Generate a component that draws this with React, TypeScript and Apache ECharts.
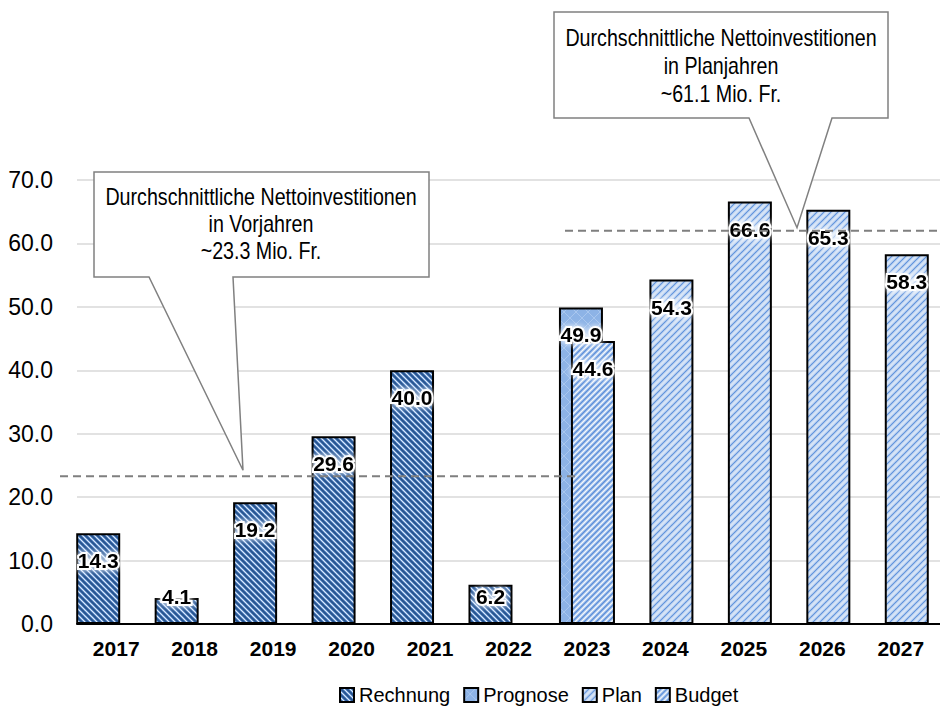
import React, { useEffect, useRef } from 'react';
import * as echarts from 'echarts';

const years = ['2017', '2018', '2019', '2020', '2021', '2022', '2023', '2024', '2025', '2026', '2027'];
const rechnung = [14.3, 4.1, 19.2, 29.6, 40.0, 6.2, null, null, null, null, null];
const prognose = [null, null, null, null, null, null, 49.9, null, null, null, null];
const budget = [null, null, null, null, null, null, 44.6, null, null, null, null];
const plan = [null, null, null, null, null, null, null, 54.3, 66.6, 65.3, 58.3];

const yMin = 0;
const yMax = 70;
const yStep = 10;

const avgPastValue = 23.3;
const avgPastLine = 23.3;
const avgPlanValue = 61.1;
const avgPlanLine = 62.0;

const calloutPast = ['Durchschnittliche Nettoinvestitionen', 'in Vorjahren', `~${avgPastValue.toFixed(1)} Mio. Fr.`];
const calloutPlan = ['Durchschnittliche Nettoinvestitionen', 'in Planjahren', `~${avgPlanValue.toFixed(1)} Mio. Fr.`];

const FONT = "'Liberation Sans', Arial, sans-serif";

type Stroke = { color: string; width: number; offset: number; dir: 'fwd' | 'back' };

function makePattern(size: number, bg: string, strokes: Stroke[]) {
  const c = document.createElement('canvas');
  c.width = size;
  c.height = size;
  const ctx = c.getContext('2d')!;
  ctx.fillStyle = bg;
  ctx.fillRect(0, 0, size, size);
  for (const s of strokes) {
    ctx.strokeStyle = s.color;
    ctx.lineWidth = s.width;
    for (let k = -2; k <= 3; k++) {
      const o = k * size + s.offset;
      ctx.beginPath();
      if (s.dir === 'back') {
        ctx.moveTo(o - 2 * size, -2 * size);
        ctx.lineTo(o + 3 * size, 3 * size);
      } else {
        ctx.moveTo(o + 2 * size, -2 * size);
        ctx.lineTo(o - 3 * size, 3 * size);
      }
      ctx.stroke();
    }
  }
  return { image: c, repeat: 'repeat', imageWidth: size, imageHeight: size } as any;
}

function toData(arr: (number | null)[]) {
  return arr.map((v) =>
    v == null ? '-' : v < 8.5 ? { value: v, label: { position: 'insideBottom', distance: 17 } } : v
  );
}

export default function App() {
  const ref = useRef<HTMLDivElement>(null);
  useEffect(() => {
    if (!ref.current) return;
    const chart = echarts.init(ref.current, undefined, { renderer: 'svg' });

    const pRechnung = makePattern(6, '#7AA4DC', [
      { color: '#25538F', width: 2, offset: 0, dir: 'back' },
      { color: '#EDF3FB', width: 0.9, offset: 3, dir: 'back' },
    ]);
    const pPrognose = makePattern(12, '#8DB3E6', [
      { color: '#A8C6EE', width: 1, offset: 0, dir: 'back' },
      { color: '#A8C6EE', width: 1, offset: 0, dir: 'fwd' },
    ]);
    const pPlan = makePattern(7, '#C9DBF3', [
      { color: '#5E92DC', width: 1.2, offset: 0, dir: 'fwd' },
      { color: '#EEF4FC', width: 0.8, offset: 3.5, dir: 'fwd' },
    ]);
    const pBudget = makePattern(6, '#C2D6F1', [
      { color: '#5A8EDA', width: 1.4, offset: 0, dir: 'fwd' },
      { color: '#F4F8FD', width: 1, offset: 3, dir: 'fwd' },
    ]);

    const valueLabel = {
      show: true,
      position: 'insideTop',
      distance: 17,
      fontFamily: FONT,
      fontSize: 21,
      fontWeight: 'bold',
      color: '#000',
      textBorderColor: '#fff',
      textBorderWidth: 4,
      textShadowColor: '#fff',
      textShadowBlur: 6,
      formatter: (p: any) => Number(p.value).toFixed(1),
    };

    const barCommon = {
      type: 'bar',
      barWidth: 44,
      barGap: '-72.7%',
      label: valueLabel,
    };
    const border = { borderColor: '#000', borderWidth: 2 };

    chart.setOption({
      animation: false,
      grid: { left: 77, top: 180, width: 872, height: 444, containLabel: false },
      legend: {
        data: ['Rechnung', 'Prognose', 'Plan', 'Budget'],
        left: 334,
        top: 680,
        icon: 'rect',
        itemWidth: 14,
        itemHeight: 14,
        itemGap: 13,
        textStyle: { fontFamily: FONT, fontSize: 20, color: '#000' },
      },
      xAxis: {
        type: 'category',
        data: years,
        axisLine: { show: true, lineStyle: { color: '#000', width: 2 } },
        axisTick: { show: false },
        axisLabel: { fontFamily: FONT, fontSize: 21, fontWeight: 'bold', color: '#000', margin: 14 },
      },
      yAxis: {
        type: 'value',
        min: yMin,
        max: yMax,
        interval: yStep,
        axisLine: { show: false },
        axisTick: { show: false },
        axisLabel: {
          fontFamily: FONT,
          fontSize: 23,
          color: '#000',
          margin: 24,
          formatter: (v: number) => v.toFixed(1),
        },
        splitLine: { lineStyle: { color: '#D9D9D9', width: 1.5 } },
      },
      series: [
        { ...barCommon, name: 'Rechnung', data: toData(rechnung), itemStyle: { color: pRechnung, ...border } },
        { ...barCommon, name: 'Prognose', data: toData(prognose), itemStyle: { color: pPrognose, ...border } },
        { ...barCommon, name: 'Budget', stack: 'pb', data: toData(budget), itemStyle: { color: pBudget, ...border } },
        { ...barCommon, name: 'Plan', stack: 'pb', data: toData(plan), itemStyle: { color: pPlan, ...border } },
        { ...barCommon, name: 'leer', data: years.map(() => '-'), label: { show: false } },
      ],
    });

    const yPast = chart.convertToPixel({ yAxisIndex: 0 }, avgPastLine) as number;
    const yPlan = chart.convertToPixel({ yAxisIndex: 0 }, avgPlanLine) as number;

    const dashStyle = { stroke: '#7F7F7F', lineWidth: 2, lineDash: [8, 5] };
    const boxStyle = { fill: '#fff', stroke: '#808080', lineWidth: 1.5 };
    const calloutText = (lines: string[], x: number, y: number, lh: number) => ({
      type: 'text',
      z: 12,
      x,
      y,
      scaleX: 0.855,
      style: {
        text: lines.join('\n'),
        x: 0,
        y: 0,
        align: 'center',
        verticalAlign: 'middle',
        fontFamily: FONT,
        fontSize: 23,
        lineHeight: lh,
        fill: '#000',
      },
    });

    chart.setOption({
      graphic: [
        { type: 'line', z: 10, shape: { x1: 60, y1: yPast, x2: 578, y2: yPast }, style: dashStyle },
        { type: 'line', z: 10, shape: { x1: 565, y1: yPlan, x2: 937, y2: yPlan }, style: dashStyle },
        {
          type: 'polygon',
          z: 11,
          shape: {
            points: [
              [94, 172], [429, 172], [429, 277], [233, 277], [243, yPast - 6], [149, 277], [94, 277],
            ],
          },
          style: boxStyle,
        },
        calloutText(calloutPast, 261, 224, 27),
        {
          type: 'polygon',
          z: 11,
          shape: {
            points: [
              [554, 12], [888, 12], [888, 118], [832, 118], [797, yPlan - 3], [749, 118], [554, 118],
            ],
          },
          style: boxStyle,
        },
        calloutText(calloutPlan, 721, 66, 28),
      ],
    });

    return () => chart.dispose();
  }, []);
  return (
    <div
      ref={ref}
      style={{ position: 'absolute', left: 0, top: 0, width: 940, height: 708, background: '#fff' }}
    />
  );
}
